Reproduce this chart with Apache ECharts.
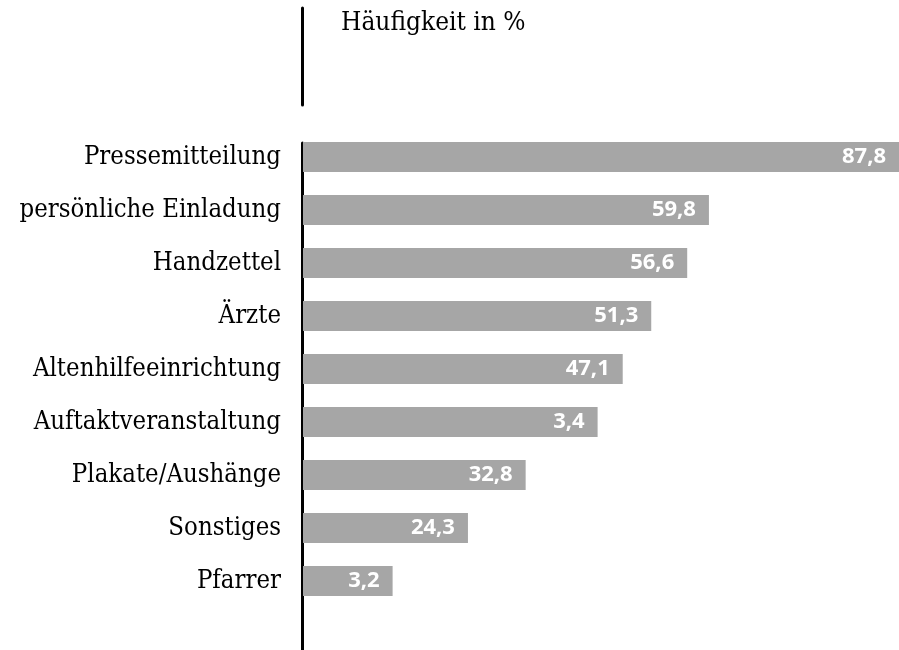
<!DOCTYPE html>
<html>
<head>
<meta charset="utf-8">
<script src="https://cdn.jsdelivr.net/npm/echarts@6/dist/echarts.min.js"></script>
<style>
html, body { margin: 0; padding: 0; background: #fff; }
#main { width: 899px; height: 650px; }
</style>
</head>
<body>
<div id="main"></div>
<script>
// Kategorien und Werte
var categories = ['Pressemitteilung', 'persönliche Einladung', 'Handzettel', 'Ärzte',
  'Altenhilfeeinrichtung', 'Auftaktveranstaltung', 'Plakate/Aushänge', 'Sonstiges', 'Pfarrer'];
// Balkenlängen (aus dem Bild gelesen)
var values = [87.8, 59.8, 56.6, 51.3, 47.1, 43.4, 32.8, 24.3, 13.2];
// Beschriftungen wie im Bild gedruckt
var labelTexts = ['87,8', '59,8', '56,6', '51,3', '47,1', '3,4', '32,8', '24,3', '3,2'];
var titleText = 'Häufigkeit in %';

var serif = '"DejaVu Serif Condensed", "DejaVu Serif", serif';
var myChart = echarts.init(document.getElementById('main'));

var axisLineOnly = {
  type: 'value',
  axisLine: { show: true, lineStyle: { color: '#000', width: 3 } },
  axisTick: { show: false },
  axisLabel: { show: false },
  splitLine: { show: false }
};
var hiddenAxis = { type: 'value', show: false };

var option = {
  animation: false,
  title: {
    text: titleText,
    left: 341,
    top: 10,
    padding: 0,
    textStyle: { fontFamily: serif, fontWeight: 'normal', fontSize: 26, color: '#000' }
  },
  grid: [
    { left: 303, right: -4, top: 130.5, height: 477 },
    { left: 302, top: 143, bottom: 0, width: 1 },
    { left: 302, top: 8, height: 97, width: 1 }
  ],
  xAxis: [
    { type: 'value', min: 0, max: 87.8, show: false, gridIndex: 0 },
    Object.assign({ gridIndex: 1 }, hiddenAxis),
    Object.assign({ gridIndex: 2 }, hiddenAxis)
  ],
  yAxis: [
    {
      type: 'category',
      gridIndex: 0,
      data: categories,
      inverse: true,
      axisLine: { show: false },
      axisTick: { show: false },
      axisLabel: { margin: 22, fontFamily: serif, fontSize: 25.5, color: '#000' }
    },
    Object.assign({ gridIndex: 1 }, axisLineOnly),
    Object.assign({ gridIndex: 2 }, axisLineOnly)
  ],
  series: [{
    type: 'bar',
    data: values,
    barWidth: 30,
    itemStyle: { color: '#a6a6a6' },
    label: {
      show: true,
      position: 'insideRight',
      distance: 13,
      color: '#fff',
      fontFamily: '"Open Sans", sans-serif',
      fontWeight: 'bold',
      fontSize: 22,
      formatter: function (p) { return labelTexts[p.dataIndex]; }
    }
  }]
};

myChart.setOption(option);
</script>
</body>
</html>
